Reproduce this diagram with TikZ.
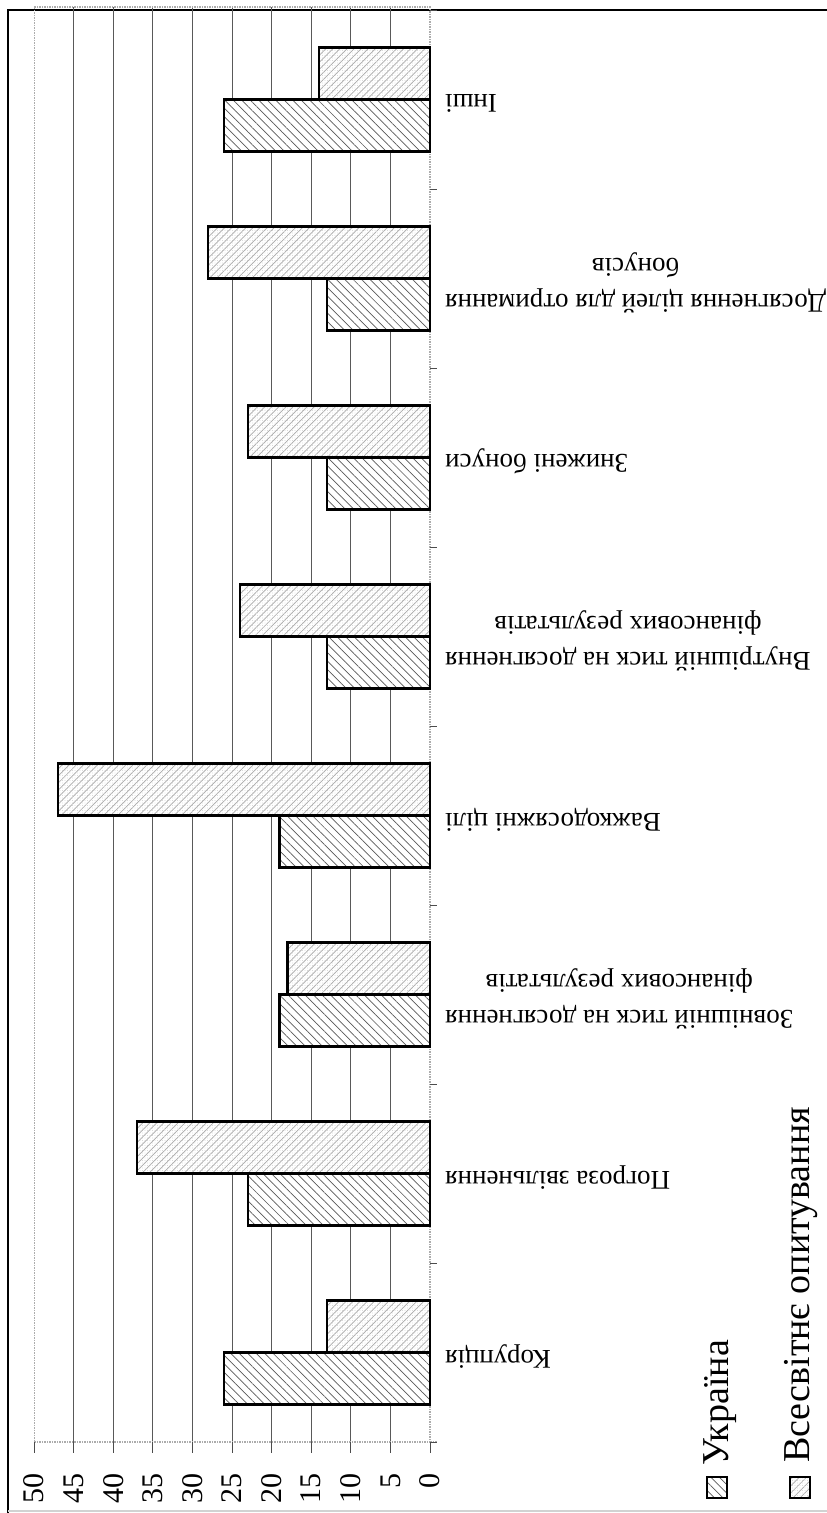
\documentclass[tikz,border=0pt]{standalone}
\usepackage{fontspec}
\setmainfont{Liberation Serif}
\usetikzlibrary{patterns.meta,positioning}

\tikzset{
  ukr/.style={draw=black, line width=2.5pt, pattern={Lines[angle=-45,distance=6pt,line width=0.7pt]}, pattern color=gray!70!black},
  wrld/.style={draw=black, line width=2.5pt, pattern={Lines[angle=45,distance=5pt,line width=0.7pt]}, pattern color=gray!65},
  wrlddots/.style={pattern={Dots[distance=2.5pt,radius=0.45pt]}, pattern color=gray!45},
  gridline/.style={gray!70!black, line width=0.7pt},
  axisline/.style={gray!65, line width=1.5pt, densely dotted},
  catlabel/.style={rotate=180, anchor=east, align=center, inner sep=0pt, font=\fontsize{27}{36}\selectfont},
  vallabel/.style={rotate=90, anchor=east, inner sep=0pt, font=\fontsize{30}{32}\selectfont},
  legtext/.style={rotate=90, anchor=base west, inner sep=0pt, font=\fontsize{38}{42}\selectfont}
}

\begin{document}
\begin{tikzpicture}[x=1pt,y=-1pt]
  \useasboundingbox (0,0) rectangle (827,1513);
  % frame
  \draw[line width=2.5pt] (8,1513) -- (8,10) -- (827,10);
  \draw[gray!35, line width=1.5pt] (8,1511) -- (827,1511);
  % grid
  \foreach \v in {5,10,...,45} {
    \draw[gridline] ({430-7.92*\v},7) -- ({430-7.92*\v},1442);
  }
  \draw[axisline] (34.3,7) rectangle (430,1442);
  \draw[axisline] (430,1442) -- (437,1442);
  % value axis
  \foreach \v in {0,5,...,50} {
    \draw[gray!60!black, line width=0.8pt] ({430-7.92*\v},1442) -- ({430-7.92*\v},1453);
    \node[vallabel] (val\v) at ({430-7.92*\v},1473) {\v};
  }
  % category axis
  \foreach \k in {0,...,8} {
    \draw[gray!60!black, line width=0.8pt] (430,{1442-179*\k}) -- (437,{1442-179*\k});
  }
  % bars and labels
  \foreach \k/\lab/\ua/\ww in {
      0/Корупція/26/13,
      1/Погроза звільнення/23/37,
      2/{Зовнішній тиск на досягнення\\фінансових результатів}/19/18,
      3/Важкодосяжні цілі/19/47,
      4/{Внутрішній тиск на досягнення\\фінансових результатів}/13/24,
      5/Знижені бонуси/13/23,
      6/{Досягнення цілей для отримання\\бонусів}/13/28,
      7/Інші/26/14} {
    \pgfmathsetmacro\c{1352.7-179*\k}
    \fill[white] (430,{\c-52}) rectangle ({430-7.92*\ww},\c);
    \fill[wrlddots] (430,{\c-52}) rectangle ({430-7.92*\ww},\c);
    \draw[wrld] (430,{\c-52}) rectangle ({430-7.92*\ww},\c);
    \fill[white] (430,\c) rectangle ({430-7.92*\ua},{\c+52});
    \draw[ukr] (430,\c) rectangle ({430-7.92*\ua},{\c+52});
    \node[catlabel] (cat\k) at (445,{\c+4}) {\lab};
  }
  % legend
  \draw[ukr, line width=1.8pt] (707,1477) rectangle (727,1498);
  \node[legtext] (legua) at (728,1466) {Україна};
  \fill[wrlddots] (790,1477) rectangle (810,1498);
  \draw[wrld, line width=1.8pt] (790,1477) rectangle (810,1498);
  \node[legtext] (legworld) at (809,1463) {Всесвітнє опитування};
\end{tikzpicture}
\end{document}
